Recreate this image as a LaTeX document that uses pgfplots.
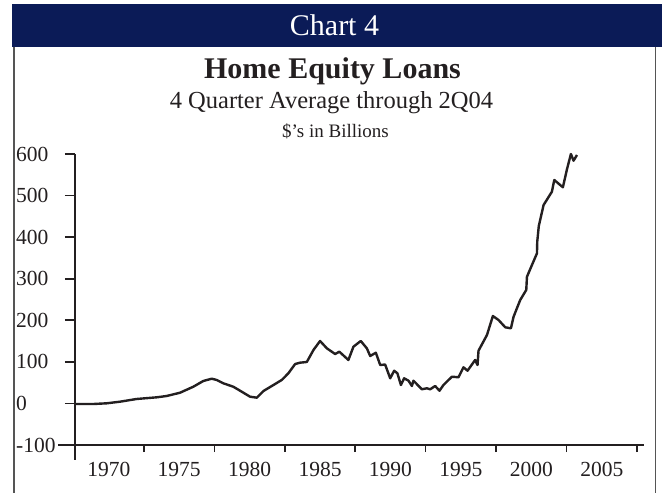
\documentclass[border=0pt]{standalone}
\usepackage{fontspec}
\setmainfont{Liberation Serif}
\usepackage{pgfplots}
\pgfplotsset{compat=1.18}
\definecolor{navy}{HTML}{0B1B57}
\definecolor{ink}{HTML}{231F20}
\definecolor{frame}{HTML}{555555}
\begin{document}
\begin{tikzpicture}[x=1pt,y=1pt]
\useasboundingbox (0,0) rectangle (662,493);
\fill[navy] (12,489) rectangle (662,446.3);
\draw[frame, line width=1.6pt] (14,446.3) -- (14,0);
\draw[frame, line width=1.6pt] (655.4,446.3) -- (655.4,0);
\node[white, font=\fontsize{30}{36}\selectfont, anchor=base, inner sep=0pt] at (334.5,457) {Chart 4};
\node[ink, font=\bfseries\fontsize{30}{36}\selectfont, anchor=base, inner sep=0pt] at (332.5,414.7) {Home Equity Loans};
\node[ink, font=\fontsize{24.5}{29}\selectfont, anchor=base, inner sep=0pt] at (331.5,384.7) {4 Quarter Average through 2Q04};
\node[ink, font=\fontsize{19}{23}\selectfont, anchor=base, inner sep=0pt] at (335.5,355.7) {\$'s in Billions};
\begin{axis}[
  at={(75pt,48pt)}, anchor=south west,
  scale only axis, width=569pt, height=291pt,
  xmin=1967.6, xmax=2008.0, ymin=-100, ymax=600,
  axis x line*=bottom, axis y line*=left,
  tick align=outside,
  major tick length=10pt, minor tick length=7pt,
  xtick={1970,1975,...,2005},
  minor xtick={1972.5,1977.5,...,2007.5},
  major x tick style={draw=none},
  ytick={-100,0,100,...,600},
  every tick/.style={ink, line width=1.6pt},
  axis line style={ink, line width=1.8pt},
  ticklabel style={font=\fontsize{21.5}{25}\selectfont, text=ink},
  /pgf/number format/assume math mode=true,
  x tick label style={/pgf/number format/1000 sep={}, yshift=-4pt},
  y tick label style={anchor=west, xshift=-49pt, inner xsep=0pt},
  clip=false,
]
\addplot[ink, line width=2.4pt, line join=round] table {
x y
1967.60 -1.4
1968.90 -1.4
1969.85 0.3
1970.80 4.2
1971.98 10.7
1973.40 14.7
1974.11 17.9
1975.06 25.8
1976.00 40.2
1976.71 54.0
1977.31 59.5
1977.66 56.4
1978.13 48.4
1978.84 40.2
1979.44 28.2
1980.03 16.2
1980.51 13.8
1980.98 29.9
1981.57 41.9
1982.28 56.4
1982.75 72.5
1983.23 94.8
1983.58 98.0
1984.06 99.7
1984.53 128.5
1985.00 150.2
1985.48 132.6
1986.07 118.9
1986.37 124.4
1987.01 104.5
1987.37 136.5
1987.89 150.2
1988.32 132.6
1988.56 114.1
1988.96 122.0
1989.27 92.4
1989.62 93.6
1989.98 60.4
1990.26 78.7
1990.49 72.5
1990.74 44.3
1990.97 60.4
1991.28 54.7
1991.52 41.9
1991.63 54.7
1992.23 34.0
1992.58 36.4
1992.82 34.0
1993.17 41.9
1993.48 30.6
1993.76 44.3
1994.36 64.3
1994.83 62.9
1995.18 86.9
1995.47 78.7
1996.01 104.5
1996.18 92.4
1996.25 126.8
1996.85 164.6
1997.27 210.3
1997.67 200.7
1998.15 183.1
1998.55 180.7
1998.74 208.6
1999.21 248.8
1999.64 272.9
1999.69 304.8
2000.40 361.1
2000.42 389.0
2000.53 426.8
2000.87 477.3
2001.46 509.3
2001.63 537.5
2002.24 519.9
2002.53 563.2
2002.81 600.0
2003.00 583.9
2003.24 597.6
};
\end{axis}
\draw[ink, line width=1.8pt] (75,49) -- (75,33);
\draw[ink, line width=1.6pt] (58,48) -- (75,48);
\end{tikzpicture}
\end{document}
